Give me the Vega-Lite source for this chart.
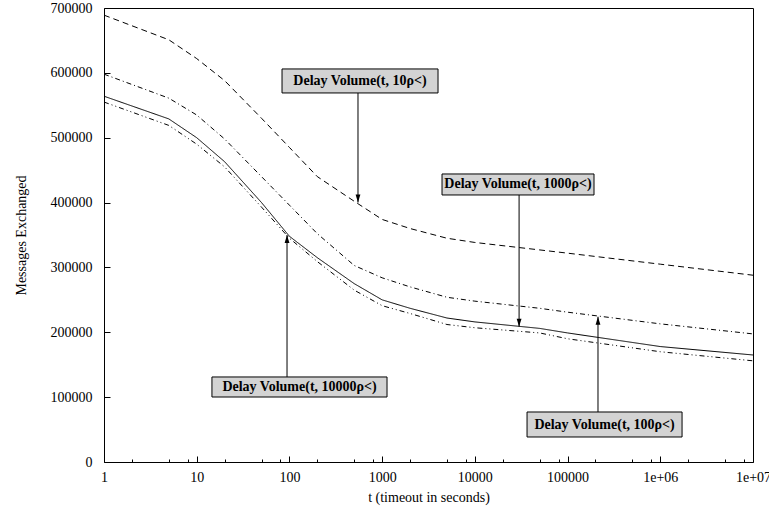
{
  "$schema": "https://vega.github.io/schema/vega-lite/v6.json",
  "width": 649,
  "height": 454,
  "autosize": {"type": "none"},
  "padding": {"left": 104, "top": 8, "right": 16, "bottom": 48},
  "config": {
    "view": {"stroke": "black", "strokeWidth": 1},
    "font": "Liberation Serif",
    "axis": {
      "domain": false,
      "grid": false,
      "tickColor": "black",
      "tickWidth": 1,
      "labelColor": "black",
      "titleColor": "black",
      "labelFont": "Liberation Serif",
      "titleFont": "Liberation Serif",
      "labelFontSize": 14,
      "titleFontSize": 14,
      "titleFontWeight": "normal",
      "labelFlush": false,
      "labelOverlap": false,
      "labelBound": false
    }
  },
  "datasets": {
    "curves": [
      {"series": "10", "t": 1, "msgs": 689000},
      {"series": "10", "t": 5, "msgs": 651000},
      {"series": "10", "t": 10, "msgs": 622000},
      {"series": "10", "t": 20, "msgs": 588000},
      {"series": "10", "t": 50, "msgs": 530000},
      {"series": "10", "t": 100, "msgs": 485000},
      {"series": "10", "t": 200, "msgs": 440000},
      {"series": "10", "t": 500, "msgs": 402000},
      {"series": "10", "t": 1000, "msgs": 374000},
      {"series": "10", "t": 2000, "msgs": 360000},
      {"series": "10", "t": 5000, "msgs": 345000},
      {"series": "10", "t": 10000, "msgs": 338500},
      {"series": "10", "t": 50000, "msgs": 327000},
      {"series": "10", "t": 100000, "msgs": 322000},
      {"series": "10", "t": 1000000, "msgs": 305000},
      {"series": "10", "t": 10000000, "msgs": 288000},
      {"series": "1000", "t": 1, "msgs": 598000},
      {"series": "1000", "t": 5, "msgs": 561000},
      {"series": "1000", "t": 10, "msgs": 535000},
      {"series": "1000", "t": 20, "msgs": 498000},
      {"series": "1000", "t": 50, "msgs": 440000},
      {"series": "1000", "t": 100, "msgs": 396000},
      {"series": "1000", "t": 200, "msgs": 352000},
      {"series": "1000", "t": 500, "msgs": 303000},
      {"series": "1000", "t": 1000, "msgs": 284000},
      {"series": "1000", "t": 2000, "msgs": 270000},
      {"series": "1000", "t": 5000, "msgs": 254000},
      {"series": "1000", "t": 10000, "msgs": 248000},
      {"series": "1000", "t": 50000, "msgs": 237000},
      {"series": "1000", "t": 100000, "msgs": 231000},
      {"series": "1000", "t": 1000000, "msgs": 213000},
      {"series": "1000", "t": 10000000, "msgs": 197500},
      {"series": "10000", "t": 1, "msgs": 564000},
      {"series": "10000", "t": 5, "msgs": 529000},
      {"series": "10000", "t": 10, "msgs": 500000},
      {"series": "10000", "t": 20, "msgs": 463000},
      {"series": "10000", "t": 50, "msgs": 400000},
      {"series": "10000", "t": 100, "msgs": 348000},
      {"series": "10000", "t": 200, "msgs": 315000},
      {"series": "10000", "t": 500, "msgs": 275000},
      {"series": "10000", "t": 1000, "msgs": 250000},
      {"series": "10000", "t": 2000, "msgs": 237000},
      {"series": "10000", "t": 5000, "msgs": 222000},
      {"series": "10000", "t": 10000, "msgs": 216000},
      {"series": "10000", "t": 50000, "msgs": 206000},
      {"series": "10000", "t": 100000, "msgs": 199000},
      {"series": "10000", "t": 1000000, "msgs": 178000},
      {"series": "10000", "t": 10000000, "msgs": 165000},
      {"series": "100", "t": 1, "msgs": 555000},
      {"series": "100", "t": 5, "msgs": 519000},
      {"series": "100", "t": 10, "msgs": 490000},
      {"series": "100", "t": 20, "msgs": 455000},
      {"series": "100", "t": 50, "msgs": 393000},
      {"series": "100", "t": 100, "msgs": 345000},
      {"series": "100", "t": 200, "msgs": 309000},
      {"series": "100", "t": 500, "msgs": 265000},
      {"series": "100", "t": 1000, "msgs": 241000},
      {"series": "100", "t": 2000, "msgs": 229000},
      {"series": "100", "t": 5000, "msgs": 212000},
      {"series": "100", "t": 10000, "msgs": 207000},
      {"series": "100", "t": 50000, "msgs": 199000},
      {"series": "100", "t": 100000, "msgs": 190000},
      {"series": "100", "t": 1000000, "msgs": 170000},
      {"series": "100", "t": 10000000, "msgs": 156000}
    ],
    "notes": [
      {"label": "Delay Volume(t, 10ρ<)", "x1": 83.2, "x2": 4006, "y1": 606000, "y2": 569000, "tx": 577, "ty": 587500, "ax": 549, "ay1": 569000, "ay2": 400000, "dir": "down"},
      {"label": "Delay Volume(t, 1000ρ<)", "x1": 4424, "x2": 192800, "y1": 444100, "y2": 411700, "tx": 29200, "ty": 427900, "ax": 30000, "ay1": 411700, "ay2": 208600, "dir": "down"},
      {"label": "Delay Volume(t, 10000ρ<)", "x1": 14.6, "x2": 1129, "y1": 131100, "y2": 100200, "tx": 128.5, "ty": 115600, "ax": 94.2, "ay1": 131100, "ay2": 350000, "dir": "up"},
      {"label": "Delay Volume(t, 100ρ<)", "x1": 36540, "x2": 1717000, "y1": 77100, "y2": 38550, "tx": 250500, "ty": 57800, "ax": 212900, "ay1": 77100, "ay2": 224000, "dir": "up"}
    ]
  },
  "resolve": {"axis": {"x": "independent", "y": "shared"}},
  "layer": [
    {
      "data": {"name": "curves"},
      "mark": {"type": "line", "color": "black", "strokeWidth": 1},
      "encoding": {
        "x": {
          "field": "t", "type": "quantitative",
          "scale": {"type": "log", "domain": [1, 10000000]},
          "axis": {
            "orient": "bottom",
            "values": [1, 10, 100, 1000, 10000, 100000, 1000000, 10000000],
            "labelExpr": "datum.value >= 10000000 ? '1e+07' : (datum.value >= 1000000 ? '1e+06' : format(datum.value, 'd'))",
            "tickSize": -6,
            "labelPadding": 14,
            "title": "t (timeout in seconds)",
            "titlePadding": 6
          }
        },
        "y": {
          "field": "msgs", "type": "quantitative",
          "scale": {"domain": [0, 700000]},
          "axis": {
            "orient": "left",
            "values": [0, 100000, 200000, 300000, 400000, 500000, 600000, 700000],
            "format": "d",
            "tickSize": -6,
            "labelPadding": 18,
            "title": "Messages Exchanged",
            "titlePadding": 22
          }
        },
        "strokeDash": {
          "field": "series", "type": "nominal",
          "scale": {"domain": ["10", "1000", "10000", "100"], "range": [[6, 4], [5, 3, 1, 3], [1, 0], [5, 3, 1, 3, 1, 3]]},
          "legend": null
        }
      }
    },
    {
      "data": {"name": "curves"},
      "mark": {"type": "line", "opacity": 0},
      "encoding": {
        "x": {
          "field": "t", "type": "quantitative",
          "scale": {"type": "log", "domain": [1, 10000000]},
          "axis": {
            "orient": "bottom",
            "values": [2, 5, 8, 20, 50, 80, 200, 500, 800, 2000, 5000, 8000, 20000, 50000, 80000, 200000, 500000, 800000, 2000000, 5000000, 8000000],
            "labels": false,
            "tickSize": -3,
            "title": null
          }
        },
        "y": {"field": "msgs", "type": "quantitative"},
        "detail": {"field": "series"}
      }
    },
    {
      "data": {"name": "notes"},
      "mark": {"type": "rule", "color": "black", "strokeWidth": 1},
      "encoding": {
        "x": {"field": "ax", "type": "quantitative", "axis": null},
        "y": {"field": "ay1", "type": "quantitative"},
        "y2": {"field": "ay2"}
      }
    },
    {
      "data": {"name": "notes"},
      "mark": {"type": "point", "filled": true, "color": "black", "opacity": 1, "size": 256},
      "encoding": {
        "x": {"field": "ax", "type": "quantitative", "axis": null},
        "y": {"field": "ay2", "type": "quantitative"},
        "shape": {
          "field": "dir", "type": "nominal",
          "scale": {"domain": ["down", "up"], "range": ["M0,0L-0.3,-1L0.3,-1Z", "M0,0L-0.3,1L0.3,1Z"]},
          "legend": null
        }
      }
    },
    {
      "data": {"name": "notes"},
      "mark": {"type": "rect", "fill": "#d3d3d3", "stroke": "black", "strokeWidth": 1},
      "encoding": {
        "x": {"field": "x1", "type": "quantitative", "axis": null},
        "x2": {"field": "x2"},
        "y": {"field": "y1", "type": "quantitative"},
        "y2": {"field": "y2"}
      }
    },
    {
      "data": {"name": "notes"},
      "mark": {"type": "text", "font": "Liberation Serif", "fontSize": 14, "fontWeight": "bold", "color": "black", "align": "center", "baseline": "middle"},
      "encoding": {
        "x": {"field": "tx", "type": "quantitative", "axis": null},
        "y": {"field": "ty", "type": "quantitative"},
        "text": {"field": "label"}
      }
    }
  ]
}
